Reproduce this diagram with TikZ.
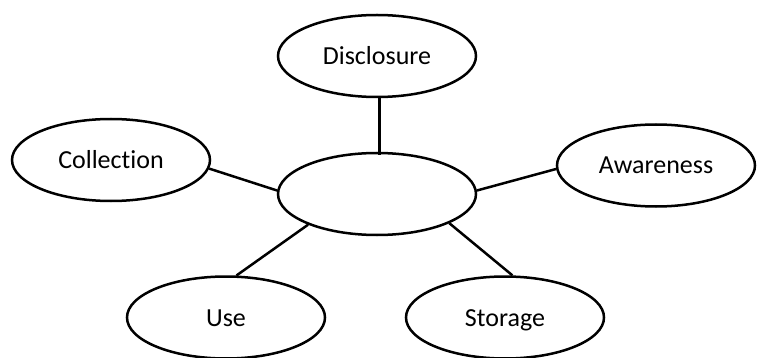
\documentclass[tikz,border=0pt]{standalone}
\usepackage{fontspec}
\setmainfont[Ligatures=NoCommon]{Carlito}
\usetikzlibrary{shapes.geometric}

\begin{document}
\begin{tikzpicture}[x=1pt,y=-1pt,
  topic/.style={ellipse,draw=black,line width=2.5pt,fill=white,
    minimum width=198pt,minimum height=82pt,inner sep=0pt,
    font=\fontsize{26}{30}\selectfont,text height=17pt,text depth=0pt},
  link/.style={draw=black,line width=2.5pt}]
  \useasboundingbox (0,0) rectangle (757,358);

  % the hub and the five topics around it
  \node[topic] (ctr)  at (377,194)   {};
  \node[topic] (disc) at (377,56)    {Disclosure};
  \node[topic] (coll) at (111,160)   {Collection};
  \node[topic] (aw)   at (656,165.5) {Awareness};
  \node[topic] (use)  at (226,317.5) {Use};
  \node[topic] (stor) at (505,317.5) {Storage};

  % spokes from the hub
  \draw[link] ([xshift=2.5pt]disc.south) -- ([xshift=2.5pt,yshift=-3pt]ctr.north);
  \draw[link] (coll.-5) -- (ctr.178);
  \draw[link] (ctr.2) -- (aw.182);
  \draw[link] (ctr.204) -- (use.76);
  \draw[link] (ctr.-22) -- (stor.80);
\end{tikzpicture}
\end{document}
